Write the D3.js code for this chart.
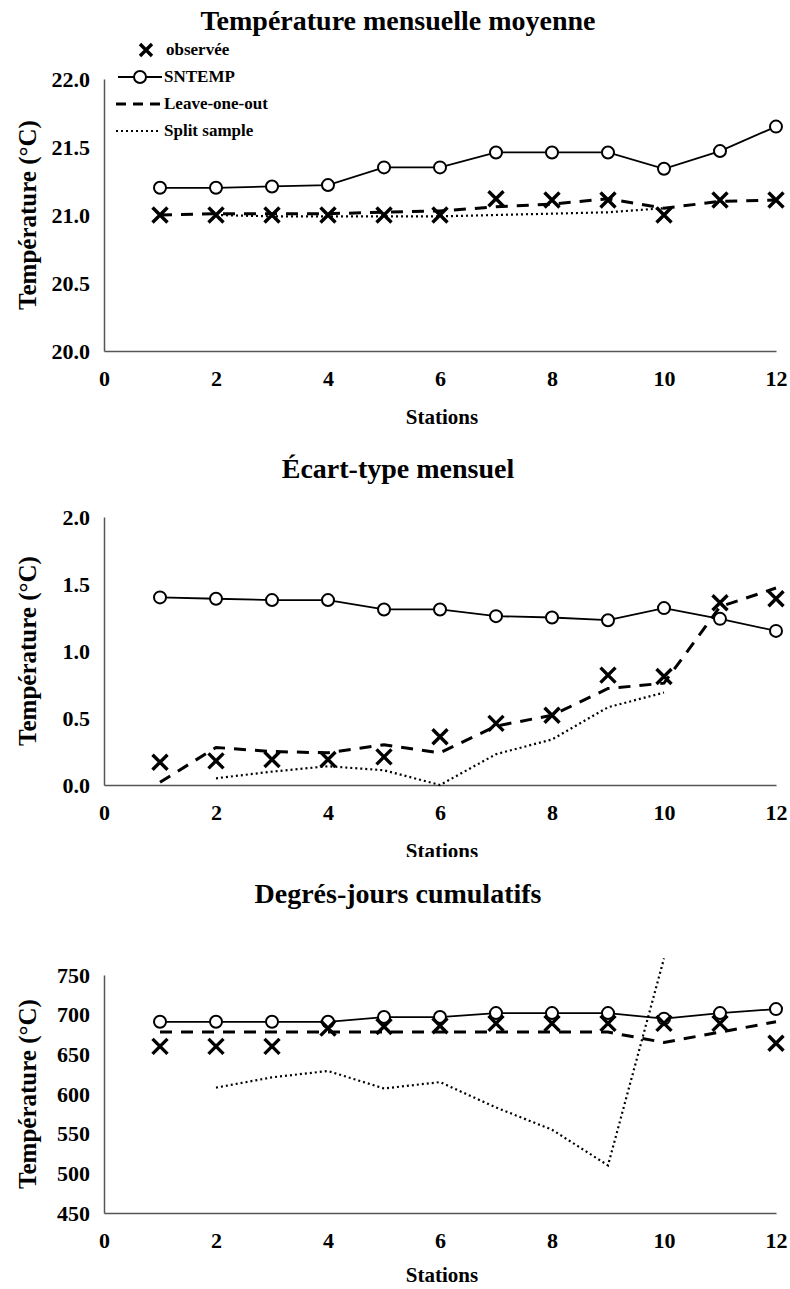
<!DOCTYPE html>
<html>
<head>
<meta charset="utf-8">
<script src="https://cdn.jsdelivr.net/npm/d3@7"></script>
<style>
  body { margin: 0; background: #fff; }
  text { font-family: "Liberation Serif", "Times New Roman", serif; font-weight: bold; fill: #000; }
</style>
</head>
<body>
<script>
var stations = [1, 2, 3, 4, 5, 6, 7, 8, 9, 10, 11, 12]
var splitStations = [2, 3, 4, 5, 6, 7, 8, 9, 10]
var xTicks = [0, 2, 4, 6, 8, 10, 12]

// panel 1 : température mensuelle moyenne
var moyObs = [21.0, 21.0, 21.0, 21.0, 21.0, 21.0, 21.12, 21.11, 21.11, 21.0, 21.11, 21.11]
var moySntemp = [21.2, 21.2, 21.21, 21.22, 21.35, 21.35, 21.46, 21.46, 21.46, 21.34, 21.47, 21.65]
var moyLoo = [21.0, 21.01, 21.01, 21.01, 21.02, 21.03, 21.06, 21.08, 21.12, 21.05, 21.1, 21.11]
var moySplit = [21.0, 20.99, 20.99, 20.99, 20.99, 21.0, 21.01, 21.02, 21.05]
var moyTicks = [20.0, 20.5, 21.0, 21.5, 22.0]

// panel 2 : écart-type mensuel
var etObs = [0.17, 0.18, 0.19, 0.19, 0.21, 0.36, 0.46, 0.52, 0.82, 0.81, 1.36, 1.39]
var etSntemp = [1.4, 1.39, 1.38, 1.38, 1.31, 1.31, 1.26, 1.25, 1.23, 1.32, 1.24, 1.15]
var etLoo = [0.02, 0.28, 0.25, 0.24, 0.3, 0.24, 0.44, 0.52, 0.72, 0.76, 1.33, 1.47]
var etSplit = [0.05, 0.1, 0.14, 0.11, 0.0, 0.23, 0.34, 0.58, 0.69]
var etTicks = [0.0, 0.5, 1.0, 1.5, 2.0]

// panel 3 : degrés-jours cumulatifs
var djObs = [660, 660, 660, 683, 685, 686, 689, 689, 689, 689, 689, 664]
var djSntemp = [691, 691, 691, 691, 697, 697, 702, 702, 702, 695, 702, 707]
var djLoo = [678, 678, 678, 678, 678, 678, 678, 678, 678, 665, 678, 691]
var djSplit = [608, 621, 629, 607, 615, 583, 555, 510, 771]
var djTicks = [450, 500, 550, 600, 650, 700, 750]

var legendLabels = ['observée', 'SNTEMP', 'Leave-one-out', 'Split sample']

var width = 790, height = 1289
var svg = d3.select('body').append('svg')
  .attr('width', width)
  .attr('height', height)

var x = d3.scaleLinear().domain([0, 12]).range([104, 776])

function xMark(cx, cy, s) {
  return 'M' + (cx - s) + ',' + (cy - s) + 'L' + (cx + s) + ',' + (cy + s) +
    'M' + (cx - s) + ',' + (cy + s) + 'L' + (cx + s) + ',' + (cy - s)
}

function drawPanel(p) {
  var g = svg.append('g')
  if (p.bgTop != null) {
    g.append('rect').attr('x', 0).attr('y', p.bgTop).attr('width', width).attr('height', height - p.bgTop).attr('fill', '#fff')
  }
  var y = d3.scaleLinear().domain(p.domain).range([p.bottom, p.top])

  g.append('text')
    .attr('x', 398).attr('y', p.titleY)
    .attr('text-anchor', 'middle')
    .style('font-size', '28px')
    .text(p.title)

  // axes
  var yAxis = g.append('g')
    .attr('transform', 'translate(' + x(0) + ',0)')
    .call(d3.axisLeft(y).tickValues(p.ticks).tickSize(0).tickPadding(14).tickFormat(p.fmt))
  var xAxis = g.append('g')
    .attr('transform', 'translate(0,' + p.bottom + ')')
    .call(d3.axisBottom(x).tickValues(xTicks).tickSize(0).tickPadding(19))
  ;[yAxis, xAxis].forEach(function (a) {
    a.select('.domain').attr('stroke', '#555').attr('stroke-width', 1.5)
    a.selectAll('text').style('font-size', '22px').style('font-family', '"Liberation Serif", serif').style('font-weight', 'bold')
  })

  g.append('text')
    .attr('x', 442).attr('y', p.bottom + p.stationsDy)
    .attr('text-anchor', 'middle')
    .style('font-size', '21px')
    .text('Stations')

  g.append('text')
    .attr('transform', 'translate(36,' + (p.top + p.bottom) / 2 + ') rotate(-90)')
    .attr('text-anchor', 'middle')
    .style('font-size', '25px')
    .text('Température (°C)')

  var line = d3.line().x(function (d) { return x(d[0]) }).y(function (d) { return y(d[1]) })

  g.append('path')
    .datum(d3.zip(splitStations, p.split))
    .attr('d', line).attr('fill', 'none').attr('stroke', '#000')
    .attr('stroke-width', 2.2).attr('stroke-dasharray', '2,3')
  g.append('path')
    .datum(d3.zip(stations, p.loo))
    .attr('d', line).attr('fill', 'none').attr('stroke', '#000')
    .attr('stroke-width', 3).attr('stroke-dasharray', '12,9')
  g.append('path')
    .datum(d3.zip(stations, p.sntemp))
    .attr('d', line).attr('fill', 'none').attr('stroke', '#000')
    .attr('stroke-width', 1.8)
  g.selectAll('circle.sn')
    .data(d3.zip(stations, p.sntemp))
    .join('circle')
    .attr('cx', function (d) { return x(d[0]) })
    .attr('cy', function (d) { return y(d[1]) })
    .attr('r', 6).attr('fill', '#fff').attr('stroke', '#000').attr('stroke-width', 2)
  g.selectAll('path.obs')
    .data(d3.zip(stations, p.obs))
    .join('path')
    .attr('class', 'obs')
    .attr('d', function (d) { return xMark(x(d[0]), y(d[1]), 7.5) })
    .attr('stroke', '#000').attr('stroke-width', 3.4).attr('fill', 'none')
}

drawPanel({ title: 'Température mensuelle moyenne', titleY: 30, top: 79, bottom: 351, stationsDy: 73,
  domain: [20, 22], ticks: moyTicks, fmt: d3.format('.1f'),
  obs: moyObs, sntemp: moySntemp, loo: moyLoo, split: moySplit })
drawPanel({ title: 'Écart-type mensuel', titleY: 478, top: 517, bottom: 785, stationsDy: 73,
  domain: [0, 2], ticks: etTicks, fmt: d3.format('.1f'),
  obs: etObs, sntemp: etSntemp, loo: etLoo, split: etSplit })
drawPanel({ title: 'Degrés-jours cumulatifs', titleY: 903, top: 975, bottom: 1213, bgTop: 857, stationsDy: 69,
  domain: [450, 750], ticks: djTicks, fmt: d3.format('d'),
  obs: djObs, sntemp: djSntemp, loo: djLoo, split: djSplit })

// legende (panel 1)
var leg = svg.append('g')
var ly = [50, 77, 104, 131]
leg.append('path')
  .attr('d', xMark(146, ly[0], 6))
  .attr('stroke', '#000').attr('stroke-width', 3.4)
leg.append('line').attr('x1', 118).attr('x2', 162).attr('y1', ly[1]).attr('y2', ly[1]).attr('stroke', '#000').attr('stroke-width', 1.8)
leg.append('circle').attr('cx', 140).attr('cy', ly[1]).attr('r', 6).attr('fill', '#fff').attr('stroke', '#000').attr('stroke-width', 2)
leg.append('line').attr('x1', 116).attr('x2', 162).attr('y1', ly[2]).attr('y2', ly[2]).attr('stroke', '#000').attr('stroke-width', 3).attr('stroke-dasharray', '10,7')
leg.append('line').attr('x1', 116).attr('x2', 160).attr('y1', ly[3]).attr('y2', ly[3]).attr('stroke', '#000').attr('stroke-width', 2.2).attr('stroke-dasharray', '2,3')
leg.selectAll('text')
  .data(legendLabels)
  .join('text')
  .attr('x', function (d, i) { return i === 0 ? 166 : 164 })
  .attr('y', function (d, i) { return ly[i] + 5 })
  .style('font-size', '17px')
  .text(function (d) { return d })
</script>
</body>
</html>
